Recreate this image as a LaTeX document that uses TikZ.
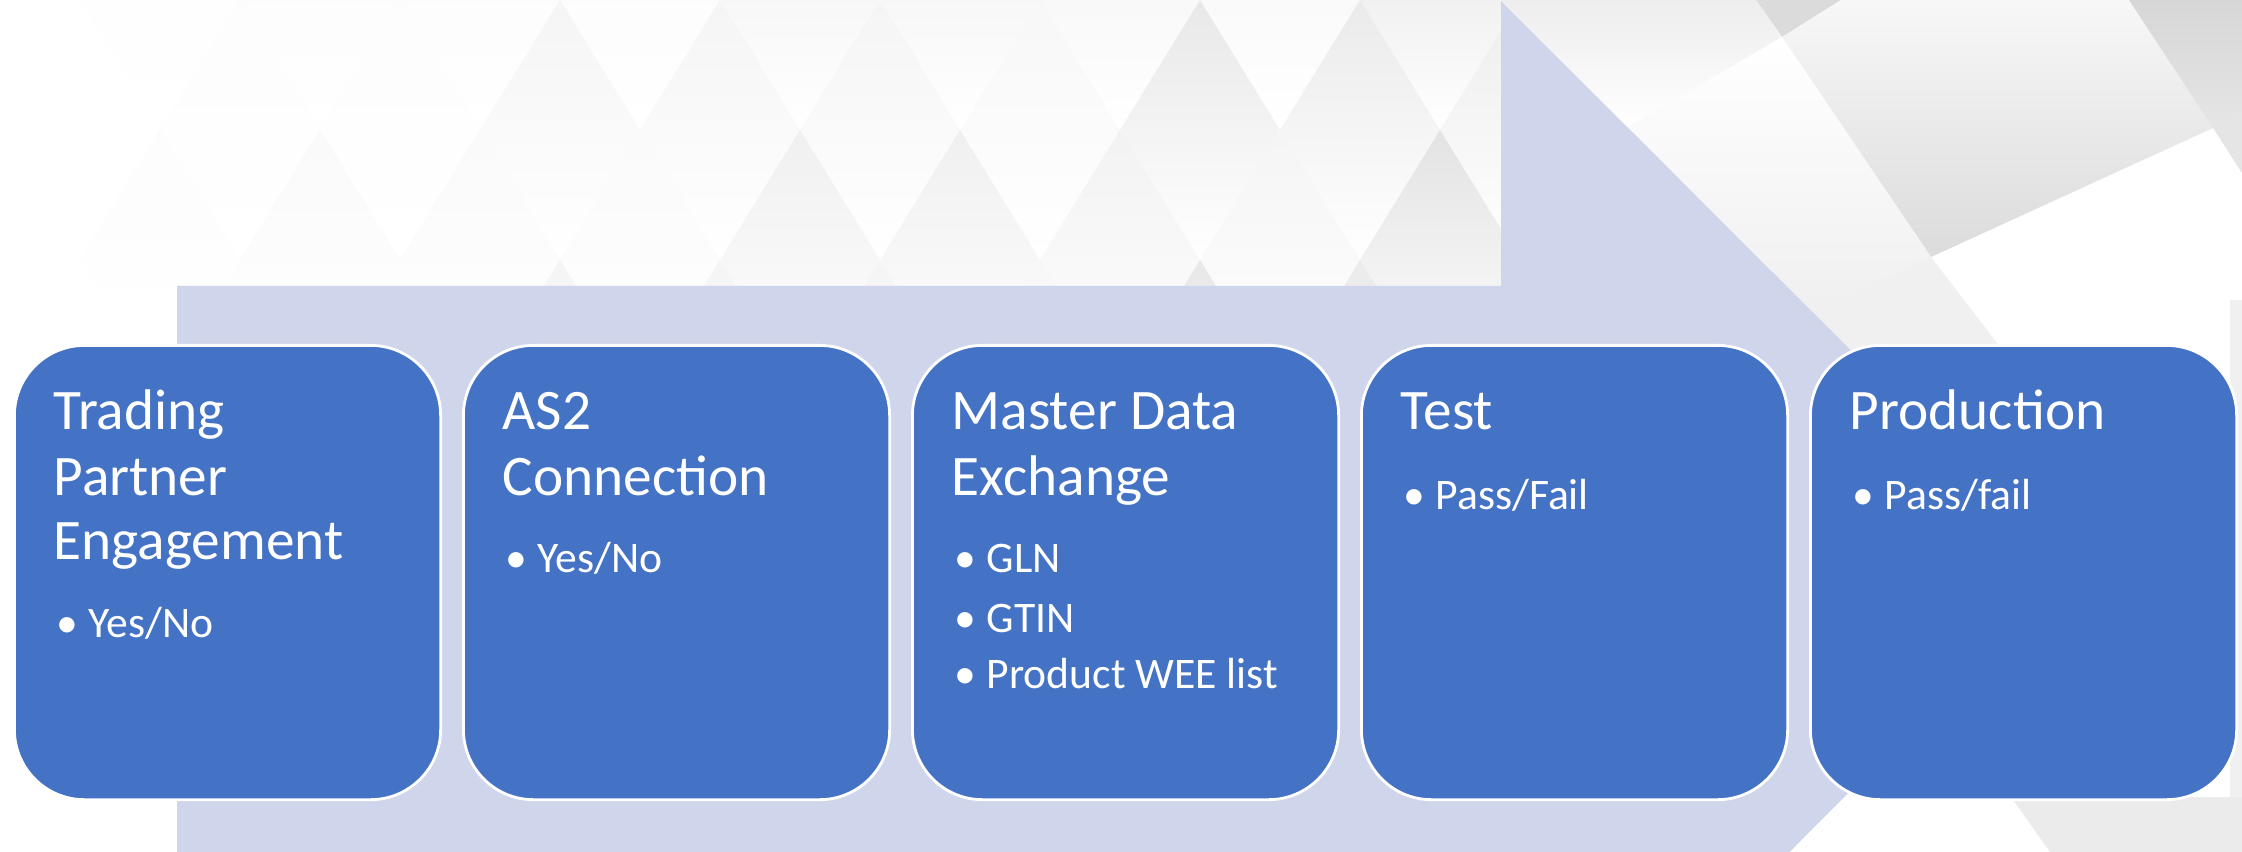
\documentclass[tikz,border=0pt]{standalone}
\usepackage{fontspec}
\setmainfont{Carlito}
\definecolor{boxblue}{RGB}{68,114,196}
\definecolor{arrowlav}{RGB}{207,213,234}
\newcommand{\bul}[1]{\makebox[0.32cm][l]{\textbullet}#1}

\begin{document}
\begin{tikzpicture}[x=0.01cm,y=-0.01cm,
  stage/.style={draw=white,line width=0.8pt,fill=boxblue,rounded corners=0.7cm,
    minimum width=4.26cm,minimum height=4.54cm,inner sep=0,anchor=north west},
  head/.style={anchor=base west,inner sep=0,text=white,font=\fontsize{16.3}{19}\selectfont},
  item/.style={anchor=base west,inner sep=0,text=white,font=\fontsize{12.4}{15}\selectfont}]
  \clip (0,0) rectangle (2242,852);
  \fill[white] (0,0) rectangle (2242,852);
  % background facets, left part
  \begin{scope}
    \clip (0,0) rectangle (1501,286);
    \foreach \row/\cy/\off in {0/0/0,1/130/80,2/260/0,3/390/80}
      \foreach \i in {0,...,9} {
        \pgfmathsetmacro\cx{160*\i+\off}
        \pgfmathtruncatemacro\g{min(14,\cx/1400*(5+2*mod(3*\i+2*\row,4)))}
        \shade[top color=black!\g,bottom color=white]
          (\cx,\cy-130) -- (\cx+80,\cy) -- (\cx,\cy+130) -- (\cx-80,\cy) -- cycle;
      }
  \end{scope}
  % background facets, right part
  \fill[black!14] (1756,0) -- (1841,0) -- (1782,37) -- cycle;
  \shade[top color=black!3,bottom color=black!14]
    (1782,37) -- (1841,0) -- (2129,0) -- (2213,128) -- (1931,257) -- cycle;
  \shade[top color=black!16,bottom color=black!10]
    (2129,0) -- (2242,0) -- (2242,112) -- (2213,128) -- cycle;
  \shade[top color=black!7,bottom color=white]
    (1501,0) -- (1756,0) -- (1782,37) -- (1628,127) -- cycle;
  \shade[top color=white,bottom color=black!6]
    (1628,127) -- (1782,37) -- (1931,257) -- (1812,311) -- cycle;
  \fill[black!6] (1812,311) -- (1931,257) -- (2010,360) -- (1850,360) -- cycle;
  \fill[black!10] (2213,128) -- (2242,112) -- (2242,173) -- cycle;
  \fill[black!6] (2230,300) rectangle (2242,800);
  \fill[black!8] (2011,797) -- (2242,797) -- (2242,852) -- (2050,852) -- cycle;
  % big arrow
  \fill[arrowlav] (177,286) -- (1501,286) -- (1501,1) -- (2071,570)
    -- (1501,1141) -- (1501,855) -- (177,855) -- cycle;
  % stages
  \node[stage] (s1) at (13,344) {};
  \node[stage] (s2) at (462,344) {};
  \node[stage] (s3) at (911,344) {};
  \node[stage] (s4) at (1360,344) {};
  \node[stage] (s5) at (1809,344) {};
  % texts
  \node[head] (t1a) at (53,430) {Trading};
  \node[head] (t1b) at (53,495) {Partner};
  \node[head] (t1c) at (53,560) {Engagement};
  \node[item] (i1a) at (56,637) {\bul{Yes/No}};
  \node[head] (t2a) at (502,430) {AS2};
  \node[head] (t2b) at (502,495) {Connection};
  \node[item] (i2a) at (505,573) {\bul{Yes/No}};
  \node[head] (t3a) at (951,430) {Master Data};
  \node[head] (t3b) at (951,495) {Exchange};
  \node[item] (i3a) at (954,573) {\bul{GLN}};
  \node[item] (i3b) at (954,632) {\bul{GTIN}};
  \node[item] (i3c) at (954,689) {\bul{Product WEE list}};
  \node[head] (t4a) at (1400,430) {Test};
  \node[item] (i4a) at (1403,510) {\bul{Pass/Fail}};
  \node[head] (t5a) at (1849,430) {Production};
  \node[item] (i5a) at (1852,510) {\bul{Pass/fail}};
\end{tikzpicture}
\end{document}
